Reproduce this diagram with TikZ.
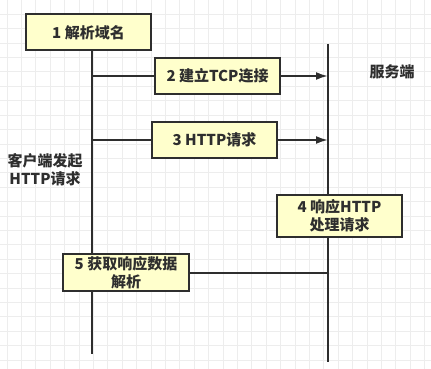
\documentclass[tikz,border=0pt]{standalone}
\usepackage{fontspec}
\setmainfont{Noto Sans CJK SC}
\usetikzlibrary{arrows.meta,positioning,backgrounds}
\definecolor{boxfill}{HTML}{FFFFCC}
\definecolor{inkgray}{HTML}{2E2E2E}
\definecolor{gridgray}{HTML}{EDEDED}

\begin{document}
\begin{tikzpicture}[
  x=1pt, y=-1pt,
  font=\fontsize{15}{18}\selectfont\bfseries,
  msgbox/.style={rectangle, draw=inkgray, line width=2pt, fill=boxfill,
    text=inkgray, align=center, inner sep=0pt, minimum width=125pt, minimum height=36pt},
  life/.style={draw=inkgray, line width=2pt},
  gridline/.style={draw=gridgray, line width=0.8pt}
]
  \useasboundingbox (0,0) rectangle (431,369);

  % Steps as boxes
  \node[msgbox] (resolve) at (88.5,32.5) {1 解析域名};
  \node[msgbox] (connect) at (217.5,76) {2 建立TCP连接};
  \node[msgbox] (request) at (214.5,140) {3 HTTP请求};
  \node[msgbox, minimum height=42pt] (respond) at (339.5,216) {4 响应HTTP\\处理请求};
  \node[msgbox, minimum width=126pt, minimum height=37pt] (parse) at (126,272.5) {5 获取响应数据\\解析};

  % Side labels
  \node[text=inkgray, align=center] (client) at (45,170) {客户端发起\\HTTP请求};
  \node[text=inkgray] (server) at (392,72) {服务端};

  % Ends of the two lifelines
  \coordinate (cbot) at (92,354);
  \coordinate (stop) at (328,44);
  \coordinate (sbot) at (328,362);

  \begin{scope}[on background layer]
    % Grid behind everything
    \foreach \gx in {7,21.4,...,431}
      \draw[gridline] (\gx,0) -- (\gx,369);
    \foreach \gy in {14.3,28.7,...,369}
      \draw[gridline] (0,\gy) -- (431,\gy);

    % Lifelines
    \draw[life] (resolve.south -| cbot) -- (cbot);
    \draw[life] (stop) -- (sbot);

    % Messages
    \foreach \msg in {connect, request} {
      \draw[life] (cbot |- \msg.west) -- (\msg.west);
      \draw[life, -{Latex[length=12pt, width=8pt]}] (\msg.east) -- (\msg.east -| stop);
    }
    \draw[life] (parse.east) -- (parse.east -| stop);
  \end{scope}
\end{tikzpicture}
\end{document}
